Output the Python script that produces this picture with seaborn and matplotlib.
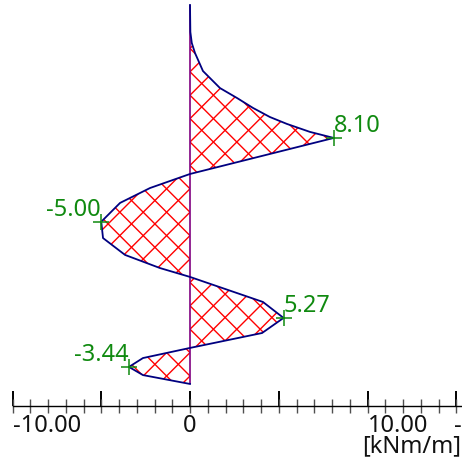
'''
Bending moment diagram along a wall, drawn with a hatched fill and a scale bar.
'''

import matplotlib
matplotlib.use('Agg')
import matplotlib.pyplot as plt
from matplotlib.collections import LineCollection
import seaborn as sns
import numpy as np
import pandas as pd

# Depth below the top of the wall (m) and bending moment (kNm/m).
depth = [0.00, 1.52, 2.14, 2.70, 3.72, 4.68, 5.24, 5.80, 6.31, 6.70, 7.15, 7.49,
         9.52, 10.31, 11.15, 12.21, 13.13, 14.08, 14.82, 15.32,
         16.73, 17.63, 18.48, 19.32, 19.89, 20.39, 20.85, 21.35]
moment = [0.00, 0.02, 0.10, 0.28, 0.73, 1.69, 2.65, 3.55, 4.50, 5.46, 6.76, 8.10,
          0.00, -2.25, -3.94, -5.00, -4.90, -3.66, -1.69, 0.00,
          4.11, 5.27, 4.06, 0.00, -2.65, -3.44, -2.65, 0.00]

# Extreme values that get a marker and a label.
peak_depth = [7.49, 12.21, 17.63, 20.39]
peak_moment = [8.10, -5.00, 5.27, -3.44]

# Scale bar below the diagram.
scale_major = [-10, -5, 0, 5, 10, 15]
scale_minor = list(range(-10, 16))
scale_labels = {-10: '-10.00', 0: '0', 10: '10.00', 15: '-'}
unit_label = '[kNm/m]'

navy = '#000080'
purple = '#800080'
green = '#108a10'
FONT = ['Noto Sans', 'DejaVu Sans']
FS = 17

PX = 17.75  # pixels per unit, same in both directions


def add_cross_hatch(ax, poly, spacing_px=23.4, phase_px=20):
    '''
    Red 45 degree cross hatch clipped to the filled area.
    '''
    s = spacing_px / PX
    segs = []
    for c in phase_px / PX + s * np.arange(-30, 60):
        segs.append([(-12, c + 12), (16, c - 16)])
        segs.append([(-12, c - 12), (16, c + 16)])
    lc = LineCollection(segs, colors='red', linewidths=1.0, zorder=2)
    ax.add_collection(lc)
    lc.set_clip_path(poly.get_paths()[0], transform=ax.transData)


def plot_moment_diagram(filename='out.png'):
    data = pd.DataFrame({'depth': depth, 'moment': moment})
    peaks = pd.DataFrame({'depth': peak_depth, 'moment': peak_moment})

    fig = plt.figure(figsize=(4.62, 4.72), dpi=100)
    ax = fig.add_axes([0, 0, 1, 1])
    ax.patch.set_alpha(0)

    # Area between the wall and the moment line.
    poly = ax.fill_betweenx(data['depth'], 0, data['moment'], facecolor='none', linewidth=0)
    add_cross_hatch(ax, poly)
    ax.vlines(0, min(depth), max(depth), color=purple, lw=1.2, zorder=3)
    sns.lineplot(data=data, x='moment', y='depth', orient='y', estimator=None,
                 color=navy, lw=1.3, ax=ax, zorder=4)

    sns.scatterplot(data=peaks, x='moment', y='depth', marker='+', s=140,
                    color=green, linewidth=1.1, ax=ax, zorder=5)
    for d, m in zip(peak_depth, peak_moment):
        ha = 'left' if m > 0 else 'right'
        dx = 0 if m > 0 else -0.5
        ax.annotate(f'{m:.2f}', xy=(m, d), xytext=(dx, 4), textcoords='offset points',
                    ha=ha, va='baseline', color=green, fontsize=FS, family=FONT)

    ax.set_xlim(-190 / PX, 272 / PX)
    ax.set_ylim(467 / PX, -5 / PX)  # depth increases downwards

    # Scale bar: use the bottom spine of the axes itself.
    axis_depth = 401 / PX
    for side in ['top', 'left', 'right']:
        ax.spines[side].set_visible(False)
    ax.spines['bottom'].set_position(('data', axis_depth))
    ax.spines['bottom'].set_bounds(-10, 272 / PX)
    ax.spines['bottom'].set_linewidth(1.0)
    ax.xaxis.remove_overlapping_locs = False
    ax.set_xticks(scale_major)
    ax.set_xticks(scale_minor, minor=True)
    ax.set_xticklabels([])
    ax.tick_params(axis='x', which='major', direction='in', length=10.5, width=1.4, color='black')
    ax.tick_params(axis='x', which='minor', direction='inout', length=10, width=1.0, color='#505050')
    ax.set_yticks([])
    ax.set_xlabel('')
    ax.set_ylabel('')

    for v, lab in scale_labels.items():
        ha = 'center' if v == 0 else 'left'
        dx = -1.5 if v == 15 else 0
        ax.annotate(lab, xy=(v, axis_depth), xytext=(dx, -18.7), textcoords='offset points',
                    ha=ha, va='baseline', fontsize=FS, family=FONT, color='#111111',
                    annotation_clip=False)

    ax.text(0.999, 1 - 452 / 472, unit_label, transform=ax.transAxes, ha='right', va='baseline',
            fontsize=FS, family=FONT, color='#111111')

    fig.savefig(filename, dpi=100)


if __name__ == '__main__':
    plot_moment_diagram()
